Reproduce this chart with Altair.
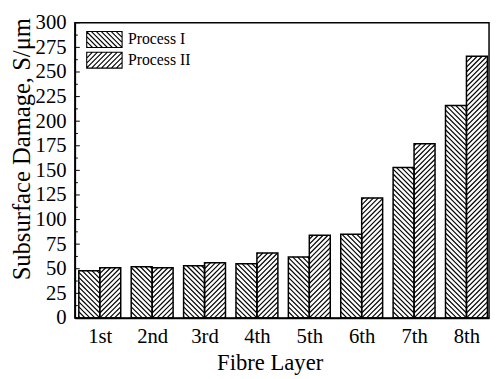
import json
import altair as alt
import pandas as pd

# ---------------- data ----------------
layers = ["1st", "2nd", "3rd", "4th", "5th", "6th", "7th", "8th"]
process_names = ["Process I", "Process II"]
process1 = [48, 52, 53, 55, 62, 85, 153, 216]
process2 = [51, 51, 56, 66, 84, 122, 177, 266]
y_ticks = list(range(0, 301, 25))

rows = []
for i, name in enumerate(layers):
    rows.append({"idx": i, "layer": name, "process": process_names[0],
                 "value": process1[i], "side": -1})
    rows.append({"idx": i, "layer": name, "process": process_names[1],
                 "value": process2[i], "side": 1})
df = pd.DataFrame(rows)

# ---------------- layout / style ----------------
W, H = 421, 300
X_MIN, X_MAX = -0.475, 7.431
Y_MAX = 300
BAR_W = 0.4
KX = W / (X_MAX - X_MIN)
KY = H / Y_MAX
D = 5.0  # hatch spacing in px
FONT = "Liberation Serif"

xscale = alt.Scale(domain=[X_MIN, X_MAX], nice=False, zero=False)
yscale = alt.Scale(domain=[0, Y_MAX], nice=False)

label_expr = json.dumps(layers) + "[round(datum.value)]"

x_axis = alt.Axis(values=list(range(len(layers))), labelExpr=label_expr,
                  ticks=False, grid=False, title="Fibre Layer",
                  labelFont=FONT, labelFontSize=21, labelColor="black",
                  labelPadding=8, titleFont=FONT, titleFontSize=23,
                  titleFontWeight="normal", titleColor="black",
                  titleX=198, titleY=34, domainColor="black", domainWidth=1.5)
y_axis = alt.Axis(values=y_ticks, ticks=False, grid=False,
                  title="Subsurface Damage, S/μm",
                  labelFont=FONT, labelFontSize=21, labelColor="black",
                  labelPadding=9, titleFont=FONT, titleFontSize=25,
                  titleFontWeight="normal", titleColor="black",
                  titleX=-41, titleY=128, domainColor="black", domainWidth=1.5)


def legend_path(kind):
    hw, hh, step = 2.0, 0.9, 0.56
    parts = [f"M{-hw},{-hh}H{hw}V{hh}H{-hw}Z"]
    j = -12
    while j <= 12:
        k = j * step
        xs = max(-hw, k - hh)
        xe = min(hw, k + hh)
        if xs < xe - 1e-6:
            if kind == "back":
                parts.append(f"M{xs:.3f},{xs - k:.3f}L{xe:.3f},{xe - k:.3f}")
            else:
                parts.append(f"M{xs:.3f},{k - xs:.3f}L{xe:.3f},{k - xe:.3f}")
        j += 1
    return "".join(parts)


bars = alt.Chart(df).transform_calculate(
    bx0=f"datum.idx + (datum.side < 0 ? -{BAR_W} : 0)"
).transform_calculate(
    bx1=f"datum.idx + (datum.side < 0 ? 0 : {BAR_W})"
).transform_calculate(
    zero="0"
)

outline = bars.mark_rect(fillOpacity=0, stroke="black", strokeWidth=1.5).encode(
    x=alt.X("bx0:Q", scale=xscale, axis=x_axis),
    x2="bx1:Q",
    y=alt.Y("value:Q", scale=yscale, axis=y_axis),
    y2="zero:Q",
)

hatch = alt.Chart(df).transform_calculate(
    h=f"datum.value * {KY}"
).transform_calculate(
    w=f"{BAR_W * KX}"
).transform_calculate(
    ns=f"sequence(ceil(-datum.w / {D}), floor(datum.h / {D}) + 1)"
).transform_flatten(["ns"], as_=["n"]).transform_calculate(
    ts=f"max(0, -datum.n * {D})"
).transform_calculate(
    te=f"min(datum.w, datum.h - datum.n * {D})"
).transform_filter("datum.ts < datum.te").transform_calculate(
    hx1=f"datum.idx + datum.side * datum.ts / {KX}"
).transform_calculate(
    hy1=f"(datum.ts + datum.n * {D}) / {KY}"
).transform_calculate(
    hx2=f"datum.idx + datum.side * datum.te / {KX}"
).transform_calculate(
    hy2=f"(datum.te + datum.n * {D}) / {KY}"
).mark_rule(color="black", strokeWidth=1.2).encode(
    x=alt.X("hx1:Q", scale=xscale, axis=x_axis),
    y=alt.Y("hy1:Q", scale=yscale, axis=y_axis),
    x2="hx2:Q",
    y2="hy2:Q",
)

ticks_major = alt.Chart(alt.sequence(0, 301, 25, as_="v")).mark_rule(
    color="black", strokeWidth=1).encode(
    y=alt.Y("v:Q", scale=yscale, axis=y_axis),
    x=alt.value(0), x2=alt.value(5))

ticks_minor = alt.Chart(alt.sequence(12.5, 300, 25, as_="v")).mark_rule(
    color="black", strokeWidth=1).encode(
    y=alt.Y("v:Q", scale=yscale, axis=y_axis),
    x=alt.value(0), x2=alt.value(3))

legend_layer = alt.Chart(df).transform_filter("false").mark_point(
    filled=False, color="black", strokeWidth=1).encode(
    x=alt.X("idx:Q", scale=xscale, axis=x_axis),
    y=alt.Y("value:Q", scale=yscale, axis=y_axis),
    shape=alt.Shape("process:N",
                    scale=alt.Scale(domain=process_names,
                                    range=[legend_path("back"), legend_path("fwd")]),
                    legend=alt.Legend(title=None, orient="none", legendX=11, legendY=7,
                                      symbolSize=324, symbolStrokeColor="black",
                                      symbolStrokeWidth=1.1, symbolFillColor="white",
                                      symbolOpacity=1, symbolOffset=9, labelOffset=14,
                                      labelFont=FONT, labelFontSize=16,
                                      labelColor="black", rowPadding=-3, padding=0)),
)

chart = alt.layer(outline, hatch, ticks_major, ticks_minor, legend_layer).properties(
    width=W, height=H,
    autosize=alt.AutoSizeParams(type="none"),
    padding={"left": 68, "top": 12, "right": 2, "bottom": 57},
).configure_view(stroke="black", strokeWidth=1.5).configure_axis(
    labelFont=FONT, titleFont=FONT
).configure_legend(labelFont=FONT)

chart.save("out.html", embed_options={"renderer": "svg", "actions": False})
